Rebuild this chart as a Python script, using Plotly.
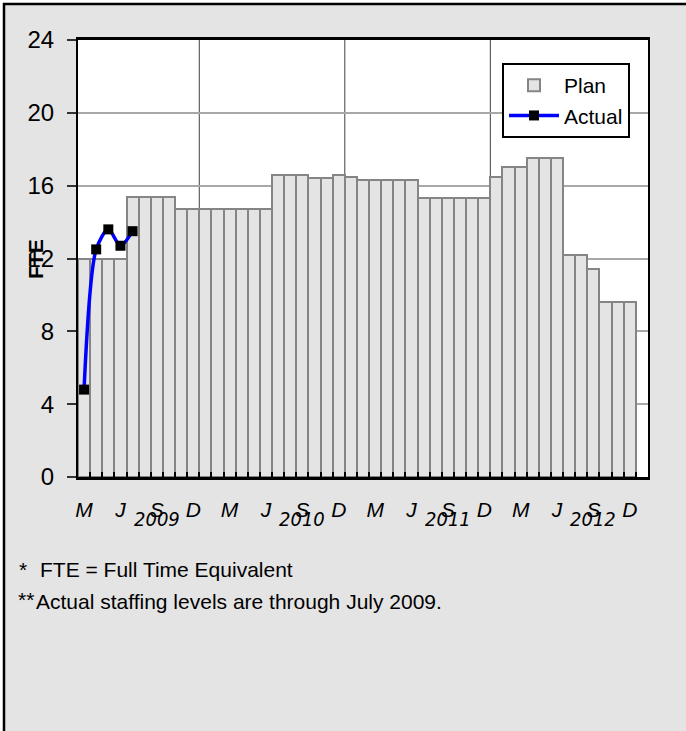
import plotly.graph_objects as go

# ---------------- data ----------------
months = [
    "Mar 2009", "Apr 2009", "May 2009", "Jun 2009", "Jul 2009", "Aug 2009",
    "Sep 2009", "Oct 2009", "Nov 2009", "Dec 2009",
    "Jan 2010", "Feb 2010", "Mar 2010", "Apr 2010", "May 2010", "Jun 2010",
    "Jul 2010", "Aug 2010", "Sep 2010", "Oct 2010", "Nov 2010", "Dec 2010",
    "Jan 2011", "Feb 2011", "Mar 2011", "Apr 2011", "May 2011", "Jun 2011",
    "Jul 2011", "Aug 2011", "Sep 2011", "Oct 2011", "Nov 2011", "Dec 2011",
    "Jan 2012", "Feb 2012", "Mar 2012", "Apr 2012", "May 2012", "Jun 2012",
    "Jul 2012", "Aug 2012", "Sep 2012", "Oct 2012", "Nov 2012", "Dec 2012",
]
plan = [
    12.0, 12.0, 12.0, 12.0, 15.4, 15.4, 15.4, 15.4, 14.7, 14.7,
    14.7, 14.7, 14.7, 14.7, 14.7, 14.7, 16.6, 16.6, 16.6, 16.4, 16.4, 16.6,
    16.5, 16.3, 16.3, 16.3, 16.3, 16.3, 15.3, 15.3, 15.3, 15.3, 15.3, 15.3,
    16.5, 17.0, 17.0, 17.5, 17.5, 17.5, 12.2, 12.2, 11.4, 9.6, 9.6, 9.6,
]
actual_months = ["Mar 2009", "Apr 2009", "May 2009", "Jun 2009", "Jul 2009"]
actual = [4.8, 12.5, 13.6, 12.7, 13.5]

month_letter = {"Mar": "M", "Jun": "J", "Sep": "S", "Dec": "D"}
tick_text = [month_letter.get(m.split()[0], "") for m in months]
year_labels = ["2009", "2010", "2011", "2012"]
year_label_months = ["Sep 2009", "Sep 2010", "Sep 2011", "Sep 2012"]
year_start_months = ["Jan 2010", "Jan 2011", "Jan 2012"]

y_ticks = [0, 4, 8, 12, 16, 20, 24]

# ---------------- layout geometry (pixels) ----------------
W, H = 686, 731
L, R, T, B = 78, 38, 40, 254
PW, PH = W - L - R, H - T - B


def px_x(px):
    return (px - L) / PW


def px_y(py):
    return (H - B - py) / PH


FONT = "Liberation Sans, Arial, sans-serif"
BG = "#e4e4e4"

fig = go.Figure()

fig.add_trace(go.Bar(
    x=months, y=plan, name="Plan",
    marker=dict(color=BG, line=dict(color="#858585", width=2)),
))
fig.add_trace(go.Scatter(
    x=actual_months, y=actual, name="Actual", mode="lines+markers",
    line=dict(color="#0000ff", width=3.5, shape="spline", smoothing=0.8),
    marker=dict(symbol="square", size=10, color="black"),
))

shapes = []
# year boundary vertical lines
for m in year_start_months:
    xi = months.index(m) - 0.5
    shapes.append(dict(type="line", xref="x", yref="paper", x0=xi, x1=xi,
                       y0=0, y1=1, layer="below",
                       line=dict(color="#404040", width=1)))
# outer frame (top and left edges visible)
shapes.append(dict(type="rect", xref="paper", yref="paper",
                   x0=px_x(0), x1=px_x(W), y0=px_y(0), y1=px_y(3), layer="above",
                   fillcolor="white", line=dict(width=0)))
shapes.append(dict(type="rect", xref="paper", yref="paper",
                   x0=px_x(0), x1=px_x(3), y0=px_y(0), y1=px_y(H), layer="above",
                   fillcolor="white", line=dict(width=0)))
shapes.append(dict(type="line", xref="paper", yref="paper",
                   x0=px_x(3), x1=px_x(W + 5), y0=px_y(4), y1=px_y(4),
                   layer="above", line=dict(color="black", width=2.5)))
shapes.append(dict(type="line", xref="paper", yref="paper",
                   x0=px_x(4), x1=px_x(4), y0=px_y(3), y1=px_y(H + 5),
                   layer="above", line=dict(color="black", width=2.5)))

annotations = []
for lab, m in zip(year_labels, year_label_months):
    annotations.append(dict(x=m, xref="x", y=px_y(519), yref="paper",
                            text=lab, showarrow=False, xanchor="center",
                            yanchor="middle",
                            font=dict(family="Liberation Sans Narrow, DejaVu Sans Condensed, Liberation Sans, Arial",
                                      size=20, color="black",
                                      style="italic")))
annotations.append(dict(x=px_x(35), y=px_y(259), xref="paper", yref="paper",
                        text="<b>FTE</b>", textangle=-90, showarrow=False,
                        xanchor="center", yanchor="middle",
                        font=dict(family=FONT, size=21, color="black")))
annotations.append(dict(x=px_x(17), y=px_y(569), xref="paper", yref="paper",
                        text="*", showarrow=False, xanchor="left",
                        yanchor="middle",
                        font=dict(family=FONT, size=21, color="black")))
annotations.append(dict(x=px_x(38), y=px_y(569), xref="paper", yref="paper",
                        text="FTE = Full Time Equivalent", showarrow=False,
                        xanchor="left", yanchor="middle",
                        font=dict(family=FONT, size=21, color="black")))
annotations.append(dict(x=px_x(16), y=px_y(599), xref="paper", yref="paper",
                        text="**", showarrow=False, xanchor="left",
                        yanchor="middle",
                        font=dict(family=FONT, size=21, color="black")))
annotations.append(dict(x=px_x(34), y=px_y(601), xref="paper", yref="paper",
                        text="Actual staffing levels are through July 2009.",
                        showarrow=False, xanchor="left", yanchor="middle",
                        font=dict(family=FONT, size=21, color="black")))

fig.update_layout(
    width=W, height=H,
    margin=dict(l=L, r=R, t=T, b=B, pad=0),
    paper_bgcolor=BG, plot_bgcolor="white",
    bargap=0,
    font=dict(family=FONT, size=20, color="black"),
    showlegend=True,
    legend=dict(x=px_x(502), y=px_y(63), xanchor="left", yanchor="top",
                bgcolor="white", bordercolor="black", borderwidth=2,
                font=dict(family=FONT, size=21, color="black"),
                itemwidth=50, tracegroupgap=0),
    shapes=shapes,
    annotations=annotations,
    xaxis=dict(
        type="category", categoryorder="array", categoryarray=months,
        range=[-0.5, len(months) + 0.5],
        tickmode="array", tickvals=months, ticktext=tick_text,
        tickangle=0,
        tickson="boundaries", ticks="inside", ticklen=5, tickwidth=2,
        tickcolor="black",
        tickfont=dict(family=FONT, size=21, color="black", style="italic"),
        ticklabelstandoff=12,
        showgrid=False, zeroline=False,
        showline=True, linecolor="black", linewidth=3, mirror=True,
    ),
    yaxis=dict(
        range=[0, 24], tickmode="array", tickvals=y_ticks,
        ticks="outside", ticklen=9, tickwidth=1.5, tickcolor="#333333",
        tickfont=dict(family=FONT, size=24, color="black"),
        ticklabelstandoff=8,
        showgrid=True, gridcolor="#a8a8a8", gridwidth=1.5,
        zeroline=False,
        showline=True, linecolor="black", linewidth=2, mirror=True,
    ),
)

fig.write_html("out.html", config={"displayModeBar": False},
               post_script="document.body.style.margin='0px';document.body.style.overflow='hidden';")
